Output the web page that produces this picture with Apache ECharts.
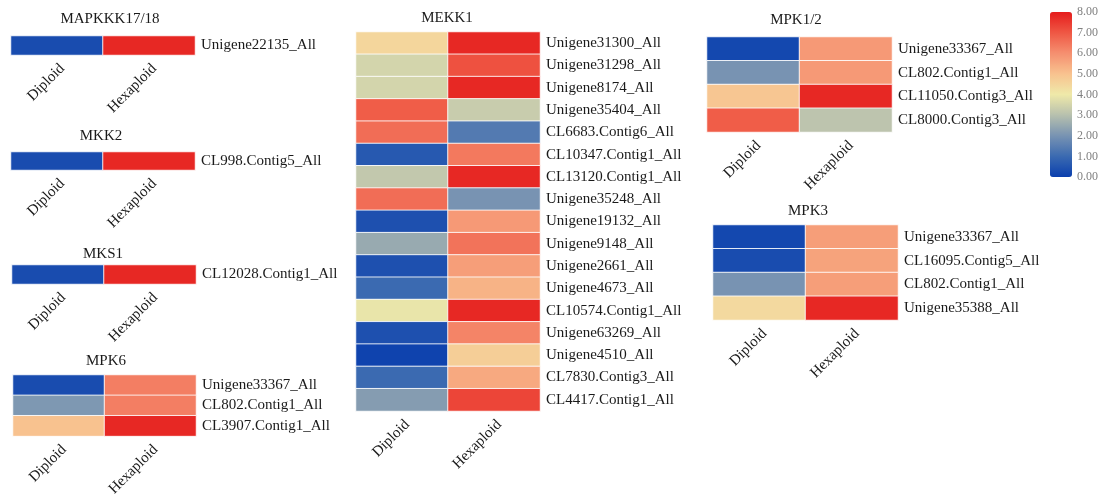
<!DOCTYPE html>
<html>
<head>
<meta charset="utf-8">
<script src="https://cdn.jsdelivr.net/npm/echarts@6/dist/echarts.min.js"></script>
<style>
html,body{margin:0;padding:0;background:#fff;}
#chart{width:1101px;height:499px;}
</style>
</head>
<body>
<div id="chart"></div>
<script>
// ---- data ----
const samples = ['Diploid', 'Hexaploid'];

const mapkkkGenes = ['Unigene22135_All'];
const mapkkkDiploid = [0.3];
const mapkkkHexaploid = [7.8];

const mkk2Genes = ['CL998.Contig5_All'];
const mkk2Diploid = [0.3];
const mkk2Hexaploid = [7.8];

const mks1Genes = ['CL12028.Contig1_All'];
const mks1Diploid = [0.3];
const mks1Hexaploid = [7.8];

const mpk6Genes = ['Unigene33367_All', 'CL802.Contig1_All', 'CL3907.Contig1_All'];
const mpk6Diploid = [0.3, 2.1, 5.0];
const mpk6Hexaploid = [6.3, 6.3, 7.8];

const mekk1Genes = ['Unigene31300_All', 'Unigene31298_All', 'Unigene8174_All', 'Unigene35404_All',
  'CL6683.Contig6_All', 'CL10347.Contig1_All', 'CL13120.Contig1_All', 'Unigene35248_All',
  'Unigene19132_All', 'Unigene9148_All', 'Unigene2661_All', 'Unigene4673_All',
  'CL10574.Contig1_All', 'Unigene63269_All', 'Unigene4510_All', 'CL7830.Contig3_All', 'CL4417.Contig1_All'];
const mekk1Diploid = [4.5, 3.5, 3.5, 6.9, 6.6, 0.6, 3.2, 6.6, 0.4, 2.5, 0.4, 1.0, 3.9, 0.4, 0.1, 1.0, 2.2];
const mekk1Hexaploid = [7.8, 7.1, 7.8, 3.3, 1.4, 6.4, 7.8, 2.0, 5.8, 6.5, 5.7, 5.3, 7.8, 6.2, 4.7, 5.5, 7.3];

const mpk12Genes = ['Unigene33367_All', 'CL802.Contig1_All', 'CL11050.Contig3_All', 'CL8000.Contig3_All'];
const mpk12Diploid = [0.2, 2.0, 4.9, 6.9];
const mpk12Hexaploid = [5.8, 5.8, 7.8, 3.1];

const mpk3Genes = ['Unigene33367_All', 'CL16095.Contig5_All', 'CL802.Contig1_All', 'Unigene35388_All'];
const mpk3Diploid = [0.2, 0.3, 2.0, 4.4];
const mpk3Hexaploid = [5.7, 5.6, 5.7, 7.8];

const scaleMin = 0;
const scaleMax = 8;
const scaleTicks = [0, 1, 2, 3, 4, 5, 6, 7, 8];

// ---- layout ----
const panels = [
  {name: 'MAPKKK17/18', genes: mapkkkGenes, d: mapkkkDiploid, h: mapkkkHexaploid, grid: {left: 11, top: 36, width: 184, height: 19}, title: [110, 21]},
  {name: 'MKK2', genes: mkk2Genes, d: mkk2Diploid, h: mkk2Hexaploid, grid: {left: 11, top: 152, width: 184, height: 18}, title: [101, 138]},
  {name: 'MKS1', genes: mks1Genes, d: mks1Diploid, h: mks1Hexaploid, grid: {left: 12, top: 265, width: 184, height: 19}, title: [103, 256]},
  {name: 'MPK6', genes: mpk6Genes, d: mpk6Diploid, h: mpk6Hexaploid, grid: {left: 13, top: 375, width: 183, height: 67}, title: [106, 363]},
  {name: 'MEKK1', genes: mekk1Genes, d: mekk1Diploid, h: mekk1Hexaploid, grid: {left: 356, top: 32, width: 184, height: 379}, title: [447, 20]},
  {name: 'MPK1/2', genes: mpk12Genes, d: mpk12Diploid, h: mpk12Hexaploid, grid: {left: 707, top: 37, width: 185, height: 95}, title: [796, 22]},
  {name: 'MPK3', genes: mpk3Genes, d: mpk3Diploid, h: mpk3Hexaploid, grid: {left: 713, top: 225, width: 185, height: 95}, title: [808, 213]}
];

const FONT = '"Liberation Serif", "Times New Roman", serif';
const TXT = '#1a1a1a';

const option = {
  backgroundColor: '#ffffff',
  animation: false,
  title: [],
  grid: [],
  xAxis: [],
  yAxis: [],
  series: [],
  visualMap: {
    type: 'continuous',
    min: scaleMin,
    max: scaleMax,
    calculable: false,
    text: null,
    showLabel: false,
    left: 1050,
    top: 12,
    padding: 0,
    itemWidth: 22,
    itemHeight: 165,
    seriesIndex: panels.map((p, i) => i),
    inRange: {
      color: ['#0a3fae', '#3b6ab1', '#7893b2', '#b7c0ae', '#efe9a9', '#f8c28f', '#f58f70', '#ef5744', '#e51c1c']
    }
  }
};

panels.forEach((p, i) => {
  option.title.push({
    text: p.name,
    left: p.title[0],
    top: p.title[1] - 9,
    textAlign: 'center',
    padding: 0,
    textStyle: {fontFamily: FONT, fontSize: 15, fontWeight: 'normal', color: TXT}
  });
  option.grid.push(Object.assign({containLabel: false}, p.grid));
  option.xAxis.push({
    type: 'category',
    gridIndex: i,
    data: samples,
    position: 'bottom',
    axisLine: {show: false},
    axisTick: {show: false},
    splitLine: {show: false},
    axisLabel: {rotate: 45, margin: 6, verticalAlign: 'top', fontFamily: FONT, fontSize: 15, color: TXT, interval: 0}
  });
  option.yAxis.push({
    type: 'category',
    gridIndex: i,
    data: p.genes,
    inverse: true,
    position: 'right',
    axisLine: {show: false},
    axisTick: {show: false},
    splitLine: {show: false},
    axisLabel: {margin: 6, padding: [4, 0, 0, 0], fontFamily: FONT, fontSize: 15, color: TXT, interval: 0}
  });
  const data = [];
  p.genes.forEach((g, r) => {
    data.push([0, r, p.d[r]]);
    data.push([1, r, p.h[r]]);
  });
  option.series.push({
    type: 'heatmap',
    xAxisIndex: i,
    yAxisIndex: i,
    data: data,
    itemStyle: {borderColor: 'rgba(255,255,255,0.85)', borderWidth: 1},
    emphasis: {disabled: true}
  });
});

// colour-scale tick axis next to the visualMap bar
const gi = panels.length;
option.grid.push({left: 1050, top: 12, width: 22, height: 165});
option.xAxis.push({type: 'value', gridIndex: gi, show: false});
option.yAxis.push({
  type: 'value',
  gridIndex: gi,
  min: scaleMin,
  max: scaleMax,
  interval: 1,
  position: 'right',
  axisLine: {show: false},
  axisTick: {show: false},
  splitLine: {show: false},
  axisLabel: {margin: 6, fontFamily: FONT, fontSize: 12, color: '#808080',
    formatter: v => scaleTicks.indexOf(v) >= 0 ? v.toFixed(2) : ''}
});

const chart = echarts.init(document.getElementById('chart'), null, {renderer: 'canvas'});
chart.setOption(option);
</script>
</body>
</html>
